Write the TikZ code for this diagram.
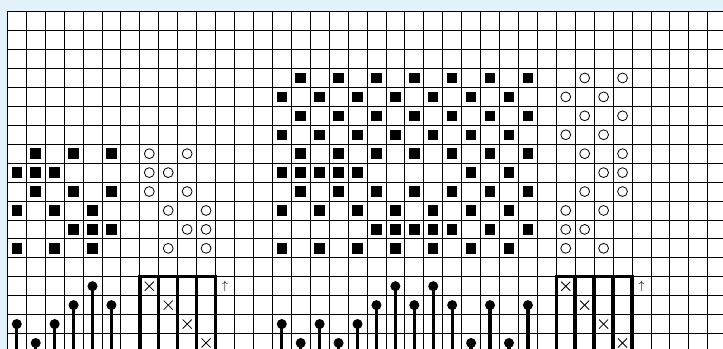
\documentclass[tikz,border=0pt]{standalone}
\usetikzlibrary{calc}
\definecolor{bgblue}{HTML}{E3F1FA}
\begin{document}
\begin{tikzpicture}[x=0.5cm,y=-0.5cm,
  gridline/.style={black,line width=0.6pt},
  sq/.style={fill=black,draw=none,minimum size=0.277cm,inner sep=0pt,outer sep=0pt},
  ring/.style={circle,draw=black,line width=0.6pt,minimum size=0.26cm,inner sep=0pt},
  dot/.style={circle,fill=black,minimum size=0.265cm,inner sep=0pt},
  stem/.style={line width=2.5pt},
  boxline/.style={line width=2.6pt,line cap=rect},
  xmark/.style={line width=0.6pt},
  arr/.style={inner sep=0pt,font=\fontsize{9}{9}\selectfont}]
\useasboundingbox (-0.386,-0.618) rectangle (37.807,17.818);
\clip (-0.386,-0.618) rectangle (37.807,17.818);
\fill[bgblue] (-0.386,-0.618) rectangle (37.807,17.818);
\fill[white] (0,0) rectangle (38.5,18.5);
\foreach \i in {0,...,38} \draw[gridline] (\i,0) -- (\i,18.5);
\foreach \j in {0,...,18} \draw[gridline] (0,\j) -- (38.5,\j);
% filled squares
\foreach \r/\cs in {
  3/{15,17,19,21,23,25,27},
  4/{14,16,18,20,22,24,26},
  5/{15,17,19,21,23,25,27},
  6/{14,16,18,20,22,24,26},
  7/{1,3,5,15,17,19,21,23,25,27},
  8/{0,1,2,14,15,16,17,18,24,26},
  9/{1,3,5,15,17,19,21,23,25,27},
  10/{0,2,4,14,16,18,20,22,24,26},
  11/{3,4,5,19,20,21,22,23,25,27},
  12/{0,2,4,14,16,18,20,22,24,26}}
  \foreach \c in \cs \node[sq] (s\r-\c) at (\c+0.5,\r+0.5) {};
% open circles
\foreach \r/\cs in {
  3/{30,32}, 4/{29,31}, 5/{30,32}, 6/{29,31},
  7/{7,9,30,32}, 8/{7,8,31,32}, 9/{7,9,30,32},
  10/{8,10,29,31}, 11/{9,10,29,30}, 12/{8,10,29,31}}
  \foreach \c in \cs \node[ring] (o\r-\c) at (\c+0.5,\r+0.5) {};
% lollipops
\foreach \c/\r in {0/16,1/17,2/16,3/15,4/14,5/15,
  14/16,15/17,16/16,17/17,18/16,19/15,20/14,21/15,22/14,23/15,24/17,25/15,26/17,27/15} {
  \node[dot] (d\c) at (\c+0.5,\r+0.5) {};
  \coordinate (b\c) at (\c+0.5,18.6);
  \draw[stem] (d\c.center) -- (b\c);
}
% boxes
\foreach \a in {7,29} {
  \coordinate (t\a-0) at (\a,14);
  \coordinate (t\a-4) at (\a+4,14);
  \draw[boxline] (t\a-0) -- (t\a-4);
  \foreach \k in {0,...,4} {
    \coordinate (u\a-\k) at (\a+\k,14);
    \coordinate (v\a-\k) at (\a+\k,18.6);
    \draw[boxline] (u\a-\k) -- (v\a-\k);
  }
  \foreach \k in {0,...,3} {
    \coordinate (x\a-\k) at (\a+\k+0.5,14+\k+0.5);
    \draw[xmark] ($(x\a-\k)+(-0.24,-0.24)$) -- ($(x\a-\k)+(0.24,0.24)$);
    \draw[xmark] ($(x\a-\k)+(-0.24,0.24)$) -- ($(x\a-\k)+(0.24,-0.24)$);
  }
  \node[arr] (ar\a) at (\a+4.5,14.5) {$\uparrow$};
}
\end{tikzpicture}
\end{document}
